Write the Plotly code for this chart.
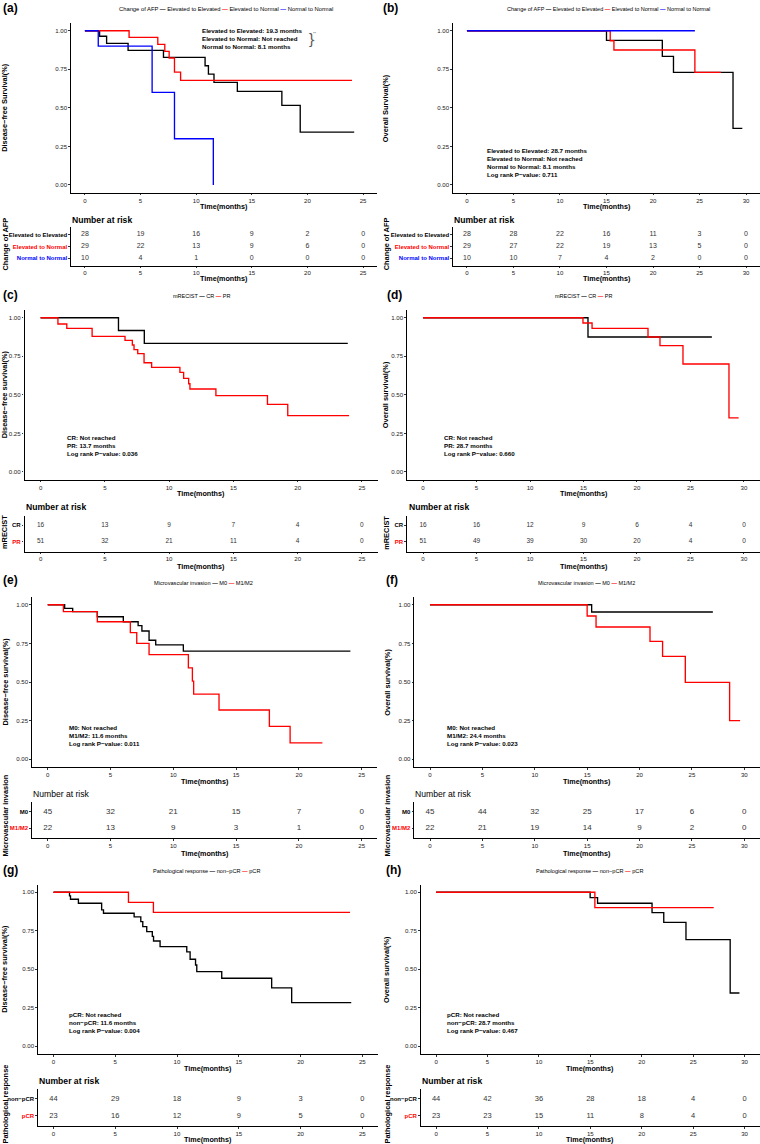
import plotly.graph_objects as go

W, H = 760, 1144
FONT = "Liberation Sans, Arial, sans-serif"
BLACK = "#000000"
RED = "#FF0000"
BLUE = "#0000FF"
TXT = "#222222"

# ---------------- data ----------------
# (a) DFS by change of AFP
a_ee_t = [0, 1.32, 1.95, 3.88, 7.06, 10.8, 11.1, 11.6, 13.7, 17.7, 19.35, 24.2]
a_ee_s = [1, 0.964, 0.918, 0.873, 0.827, 0.773, 0.719, 0.665, 0.607, 0.516, 0.343, 0.343]
a_en_t = [0, 3.97, 6.55, 7.18, 7.57, 8.05, 8.6, 24.0]
a_en_s = [1, 0.957, 0.911, 0.866, 0.823, 0.732, 0.678, 0.678]
a_nn_t = [0, 1.2, 6.04, 8.05, 11.54]
a_nn_s = [1, 0.9, 0.6, 0.3, 0.0]
# (b) OS by change of AFP
b_ee_t = [0, 15.0, 21.0, 22.2, 28.6, 29.6]
b_ee_s = [1, 0.937, 0.834, 0.73, 0.367, 0.367]
b_en_t = [0, 15.4, 15.8, 24.5, 27.3]
b_en_s = [1, 0.935, 0.875, 0.73, 0.73]
b_nn_t = [0, 24.5]
b_nn_s = [1, 1]
# (c) DFS by mRECIST
c_cr_t = [0, 6.06, 8.07, 23.9]
c_cr_s = [1, 0.917, 0.834, 0.834]
c_pr_t = [0, 1.35, 2.04, 4.01, 6.57, 7.14, 7.27, 7.56, 8.05, 8.64, 10.84, 11.13, 11.52, 11.62, 13.64, 17.65, 19.23, 24.0]
c_pr_s = [1, 0.959, 0.931, 0.879, 0.853, 0.823, 0.793, 0.767, 0.708, 0.678, 0.646, 0.607, 0.572, 0.538, 0.495, 0.438, 0.365, 0.365]
# (d) OS by mRECIST
d_cr_t = [0, 15.42, 27.0]
d_cr_s = [1, 0.875, 0.875]
d_pr_t = [0, 14.95, 15.8, 21.03, 22.15, 24.3, 28.6, 29.5]
d_pr_s = [1, 0.966, 0.931, 0.875, 0.819, 0.70, 0.351, 0.351]
# (e) DFS by microvascular invasion
e_m0_t = [0, 1.35, 1.99, 3.95, 6.02, 7.2, 7.5, 8.07, 8.6, 10.8, 24.1]
e_m0_s = [1, 0.976, 0.955, 0.922, 0.89, 0.865, 0.83, 0.77, 0.74, 0.70, 0.70]
e_m1_t = [0, 1.25, 3.95, 6.58, 7.09, 8.07, 11.2, 11.52, 11.62, 13.64, 17.65, 19.3, 21.87]
e_m1_s = [1, 0.955, 0.89, 0.82, 0.75, 0.677, 0.591, 0.506, 0.422, 0.319, 0.213, 0.106, 0.106]
# (f) OS by microvascular invasion
f_m0_t = [0, 15.43, 27.0]
f_m0_s = [1, 0.953, 0.953]
f_m1_t = [0, 15.0, 15.85, 21.0, 22.2, 24.37, 28.6, 29.6]
f_m1_s = [1, 0.927, 0.856, 0.763, 0.666, 0.498, 0.25, 0.25]
# (g) DFS by pathological response
g_non_t = [0, 1.3, 1.38, 2.02, 3.9, 4.05, 6.53, 7.07, 7.23, 7.55, 8.0, 8.1, 8.63, 10.79, 11.06, 11.5, 11.6, 13.62, 17.66, 19.28, 24.1]
g_non_s = [1, 0.977, 0.955, 0.929, 0.886, 0.864, 0.84, 0.81, 0.777, 0.745, 0.714, 0.684, 0.647, 0.613, 0.565, 0.528, 0.485, 0.442, 0.379, 0.284, 0.284]
g_pcr_t = [0, 6.07, 8.09, 24.0]
g_pcr_s = [1, 0.935, 0.87, 0.87]
# (h) OS by pathological response
h_non_t = [0, 14.98, 15.7, 21.0, 22.14, 24.3, 28.6, 29.5]
h_non_s = [1, 0.965, 0.929, 0.868, 0.805, 0.693, 0.346, 0.346]
h_pcr_t = [0, 15.44, 27.0]
h_pcr_s = [1, 0.9, 0.9]

# number at risk
risk_t25 = [0, 5, 10, 15, 20, 25]
risk_t30 = [0, 5, 10, 15, 20, 25, 30]
a_risk_ee = [28, 19, 16, 9, 2, 0]
a_risk_en = [29, 22, 13, 9, 6, 0]
a_risk_nn = [10, 4, 1, 0, 0, 0]
b_risk_ee = [28, 28, 22, 16, 11, 3, 0]
b_risk_en = [29, 27, 22, 19, 13, 5, 0]
b_risk_nn = [10, 10, 7, 4, 2, 0, 0]
c_risk_cr = [16, 13, 9, 7, 4, 0]
c_risk_pr = [51, 32, 21, 11, 4, 0]
d_risk_cr = [16, 16, 12, 9, 6, 4, 0]
d_risk_pr = [51, 49, 39, 30, 20, 4, 0]
e_risk_m0 = [45, 32, 21, 15, 7, 0]
e_risk_m1 = [22, 13, 9, 3, 1, 0]
f_risk_m0 = [45, 44, 32, 25, 17, 6, 0]
f_risk_m1 = [22, 21, 19, 14, 9, 2, 0]
g_risk_non = [44, 29, 18, 9, 3, 0]
g_risk_pcr = [23, 16, 12, 9, 5, 0]
h_risk_non = [44, 42, 36, 28, 18, 4, 0]
h_risk_pcr = [23, 23, 15, 11, 8, 4, 0]

afp_groups = ["Elevated to Elevated", "Elevated to Normal", "Normal to Normal"]
mrecist_groups = ["CR", "PR"]
mvi_groups = ["M0", "M1/M2"]
path_groups = ["non\u2212pCR", "pCR"]
y_ticks = [0, 0.25, 0.5, 0.75, 1.0]
y_ticklabels = ["0.00", "0.25", "0.50", "0.75", "1.00"]

# ---------------- panel specs (layout in pixels) ----------------
panels = [
    dict(tag="(a)", tagxy=(1.5, 8), km_x=(71, 377), km_y=(23, 192.7), xr=(-1.25, 26.25), xt=risk_t25,
         curves=[(a_ee_t, a_ee_s, BLACK), (a_en_t, a_en_s, RED), (a_nn_t, a_nn_s, BLUE)],
         ytitle="Disease\u2212free Survival(%)", ytx=5, time_y=206.5,
         risk_y=(227.4, 265.5), risk=[a_risk_ee, a_risk_en, a_risk_nn], groups=afp_groups,
         gcols=[BLACK, RED, BLUE], rtitle="Change of AFP", rtx=4.5, rty=244, nar=(70.7, 220), nar_bold=True,
         rtime_y=278.8, rfs=7, rlfs=6,
         ann="Elevated to Elevated: 19.3 months<br>Elevated to Normal: Not reached<br>Normal to Normal: 8.1 months",
         annxy=(200.5, 26.5),
         leg_xy=(226, 9), leg_fs=5.8, leg_title="Change of AFP"),
    dict(tag="(b)", tagxy=(381.5, 8), km_x=(453, 760), km_y=(23, 192.7), xr=(-1.5, 31.5), xt=risk_t30,
         curves=[(b_ee_t, b_ee_s, BLACK), (b_en_t, b_en_s, RED), (b_nn_t, b_nn_s, BLUE)],
         ytitle="Overall Survival(%)", ytx=386.3, time_y=206.5,
         risk_y=(227.4, 265.5), risk=[b_risk_ee, b_risk_en, b_risk_nn], groups=afp_groups,
         gcols=[BLACK, RED, BLUE], rtitle="Change of AFP", rtx=386.3, rty=244, nar=(453.3, 220), nar_bold=True,
         rtime_y=278.8, rfs=7, rlfs=6,
         ann="Elevated to Elevated: 28.7 months<br>Elevated to Normal: Not reached<br>Normal to Normal: 8.1 months<br>Log rank P\u2212value: 0.711",
         annxy=(485.5, 146),
         leg_xy=(608, 9), leg_fs=5.5, leg_title="Change of AFP"),
    dict(tag="(c)", tagxy=(1.5, 295), km_x=(24.5, 378), km_y=(310, 479.7), xr=(-1.25, 26.25), xt=risk_t25,
         curves=[(c_cr_t, c_cr_s, BLACK), (c_pr_t, c_pr_s, RED)],
         ytitle="Disease\u2212free survival(%)", ytx=4.5, time_y=493,
         risk_y=(515.5, 551.5), risk=[c_risk_cr, c_risk_pr], groups=mrecist_groups,
         gcols=[BLACK, RED], rtitle="mRECIST", rtx=4.5, rty=532.5, nar=(25, 507.3), nar_bold=True,
         rtime_y=566, rfs=6.5, rlfs=6,
         ann="CR: Not reached<br>PR: 13.7 months<br>Log rank P\u2212value: 0.036",
         annxy=(66, 433),
         leg_xy=(201, 295.7), leg_fs=5.5, leg_title="mRECIST"),
    dict(tag="(d)", tagxy=(385.5, 295), km_x=(407, 760), km_y=(310, 479.7), xr=(-1.5, 31.5), xt=risk_t30,
         curves=[(d_cr_t, d_cr_s, BLACK), (d_pr_t, d_pr_s, RED)],
         ytitle="Overall survival(%)", ytx=386.3, time_y=493,
         risk_y=(515.5, 551.5), risk=[d_risk_cr, d_risk_pr], groups=mrecist_groups,
         gcols=[BLACK, RED], rtitle="mRECIST", rtx=386.3, rty=532.5, nar=(407.7, 507.3), nar_bold=True,
         rtime_y=566, rfs=6.5, rlfs=6,
         ann="CR: Not reached<br>PR: 28.7 months<br>Log rank P\u2212value: 0.660",
         annxy=(443, 433),
         leg_xy=(583.5, 295.7), leg_fs=5.5, leg_title="mRECIST"),
    dict(tag="(e)", tagxy=(1.5, 580), km_x=(32, 377.4), km_y=(597, 767), xr=(-1.25, 26.25), xt=risk_t25,
         curves=[(e_m0_t, e_m0_s, BLACK), (e_m1_t, e_m1_s, RED)],
         ytitle="Disease\u2212free survival(%)", ytx=4.5, time_y=781,
         risk_y=(801.7, 838.3), risk=[e_risk_m0, e_risk_m1], groups=mvi_groups,
         gcols=[BLACK, RED], rtitle="Microvascular invasion", rtx=4.5, rty=816, nar=(31.7, 794.3), nar_bold=False,
         rtime_y=853, rfs=8, rlfs=6,
         ann="M0: Not reached<br>M1/M2: 11.6 months<br>Log rank P\u2212value: 0.011",
         annxy=(68, 723),
         leg_xy=(203.5, 583.3), leg_fs=5.6, leg_title="Microvascular invasion"),
    dict(tag="(f)", tagxy=(384.5, 580), km_x=(414.3, 760), km_y=(597, 767), xr=(-1.5, 31.5), xt=risk_t30,
         curves=[(f_m0_t, f_m0_s, BLACK), (f_m1_t, f_m1_s, RED)],
         ytitle="Overall survival(%)", ytx=386.7, time_y=781,
         risk_y=(801.7, 838.3), risk=[f_risk_m0, f_risk_m1], groups=mvi_groups,
         gcols=[BLACK, RED], rtitle="Microvascular invasion", rtx=386.5, rty=816, nar=(414.3, 794.3), nar_bold=False,
         rtime_y=853, rfs=8, rlfs=6,
         ann="M0: Not reached<br>M1/M2: 24.4 months<br>Log rank P\u2212value: 0.023",
         annxy=(445.5, 723),
         leg_xy=(586, 583.3), leg_fs=5.5, leg_title="Microvascular invasion"),
    dict(tag="(g)", tagxy=(1.5, 869.5), km_x=(38, 377.8), km_y=(884.6, 1054), xr=(-1.25, 26.25), xt=risk_t25,
         curves=[(g_non_t, g_non_s, BLACK), (g_pcr_t, g_pcr_s, RED)],
         ytitle="Disease\u2212free survival(%)", ytx=4.5, time_y=1068,
         risk_y=(1088.5, 1125.9), risk=[g_risk_non, g_risk_pcr], groups=path_groups,
         gcols=[BLACK, RED], rtitle="Pathological response", rtx=4.5, rty=1104, nar=(37.7, 1080.7), nar_bold=True,
         rtime_y=1139, rfs=7.5, rlfs=6,
         ann="pCR: Not reached<br>non\u2212pCR: 11.6 months<br>Log rank P\u2212value: 0.004",
         annxy=(68, 1010),
         leg_xy=(206, 870.7), leg_fs=5.6, leg_title="Pathological response"),
    dict(tag="(h)", tagxy=(384.5, 869.5), km_x=(420.7, 760), km_y=(884.6, 1054), xr=(-1.5, 31.5), xt=risk_t30,
         curves=[(h_non_t, h_non_s, BLACK), (h_pcr_t, h_pcr_s, RED)],
         ytitle="Overall survival(%)", ytx=386.7, time_y=1068,
         risk_y=(1088.5, 1125.9), risk=[h_risk_non, h_risk_pcr], groups=path_groups,
         gcols=[BLACK, RED], rtitle="Pathological response", rtx=386.5, rty=1104, nar=(420.7, 1080.7), nar_bold=True,
         rtime_y=1139, rfs=7.5, rlfs=6,
         ann="pCR: Not reached<br>non\u2212pCR: 28.7 months<br>Log rank P\u2212value: 0.467",
         annxy=(445.5, 1010),
         leg_xy=(589, 870.7), leg_fs=5.6, leg_title="Pathological response"),
]


def fx(p):
    return p / W


def fy(p):
    return 1 - p / H


fig = go.Figure()
layout_axes = {}
annotations = []


def ann(x, y, text, size, color=BLACK, bold=False, xanchor="center", yanchor="middle", angle=0, align="center"):
    if bold:
        text = "<b>" + text + "</b>"
    annotations.append(dict(x=fx(x), y=fy(y), xref="paper", yref="paper", text=text, showarrow=False,
                            xanchor=xanchor, yanchor=yanchor, textangle=angle, align=align,
                            font=dict(family=FONT, size=size, color=color), borderpad=0))


def axis_common():
    return dict(showgrid=False, zeroline=False, showline=True, linecolor=BLACK, linewidth=1.1,
                ticks="outside", ticklen=1.6, tickwidth=0.8, tickcolor="#333333",
                tickfont=dict(family=FONT, size=6.1, color=TXT), fixedrange=True,
                ticklabeloverflow="allow")


for i, p in enumerate(panels):
    nk = 2 * i + 1
    nr = 2 * i + 2
    xk = "x" if nk == 1 else f"x{nk}"
    yk = "y" if nk == 1 else f"y{nk}"
    xr_ = f"x{nr}"
    yr_ = f"y{nr}"
    xdom = [fx(p["km_x"][0]), fx(p["km_x"][1])]

    # KM axes
    ax = axis_common()
    ax.update(domain=xdom, range=list(p["xr"]), tickvals=p["xt"], anchor=yk)
    layout_axes["xaxis" if nk == 1 else f"xaxis{nk}"] = ax
    ay = axis_common()
    ay.update(domain=[fy(p["km_y"][1]), fy(p["km_y"][0])], range=[-0.05, 1.05], tickvals=y_ticks,
              ticktext=y_ticklabels, anchor=xk)
    layout_axes["yaxis" if nk == 1 else f"yaxis{nk}"] = ay

    for t, s, c in p["curves"]:
        fig.add_trace(go.Scatter(x=t, y=s, mode="lines", line=dict(color=c, width=1.35, shape="hv"),
                                 xaxis=xk, yaxis=yk, hoverinfo="skip"))

    # risk table axes
    n = len(p["groups"])
    rx = axis_common()
    rx.update(domain=xdom, range=list(p["xr"]), tickvals=p["xt"], anchor=yr_)
    layout_axes[f"xaxis{nr}"] = rx
    ticktext = []
    for g, c in zip(p["groups"], p["gcols"]):
        ticktext.append(f'<span style="color:{c}"><b>{g}</b></span>')
    ry = axis_common()
    ry.update(domain=[fy(p["risk_y"][1]), fy(p["risk_y"][0])], range=[n + 0.6, 0.4],
              tickvals=list(range(1, n + 1)), ticktext=ticktext, anchor=xr_,
              tickfont=dict(family=FONT, size=p["rlfs"], color=BLACK))
    layout_axes[f"yaxis{nr}"] = ry
    for k, vals in enumerate(p["risk"]):
        fig.add_trace(go.Scatter(x=p["xt"], y=[k + 1] * len(vals), mode="text", text=[str(v) for v in vals],
                                 textfont=dict(family=FONT, size=p["rfs"], color="#333333"),
                                 textposition="middle center", xaxis=xr_, yaxis=yr_, hoverinfo="skip"))

    # texts
    ann(p["tagxy"][0], p["tagxy"][1], p["tag"], 12, bold=True, xanchor="left")
    xmid_px = p["km_x"][0] + ((p["xt"][-1] / 2) - p["xr"][0]) / (p["xr"][1] - p["xr"][0]) * (p["km_x"][1] - p["km_x"][0])
    ann(xmid_px, p["time_y"], "Time(months)", 7.2, bold=True)
    ann(xmid_px, p["rtime_y"], "Time(months)", 7.2, bold=True)
    ann(p["ytx"], (p["km_y"][0] + p["km_y"][1]) / 2, p["ytitle"], 7.4, bold=True, angle=-90)
    ann(p["rtx"], p["rty"], p["rtitle"], 7.4, bold=True, angle=-90)
    ann(p["nar"][0], p["nar"][1], "Number at risk", 8.6, bold=p["nar_bold"], xanchor="left")
    ann(p["annxy"][0], p["annxy"][1], p["ann"], 6.2, bold=True, xanchor="left", yanchor="top", align="left")

    # legend (title + colored key dashes + labels)
    parts = [p["leg_title"]]
    for g, c in zip(p["groups"], p["gcols"]):
        parts.append(f'<span style="color:{c}"><b>\u2014</b></span> {g}')
    ann(p["leg_xy"][0], p["leg_xy"][1], " ".join(parts), p["leg_fs"])

# significance bracket in (a)
ann(308, 38.5, "}", 15, color="#555555", xanchor="left")
ann(311.5, 33, "**", 4, color="#555555", xanchor="left")
ann(311.5, 42, "*", 4, color="#555555", xanchor="left")

fig.update_layout(width=W, height=H, margin=dict(l=0, r=0, t=0, b=0), showlegend=False,
                  plot_bgcolor="white", paper_bgcolor="white",
                  annotations=annotations, **layout_axes)

fig.write_html("out.html", config={"displayModeBar": False},
               post_script="document.body.style.margin='0';document.body.style.overflow='hidden';")
